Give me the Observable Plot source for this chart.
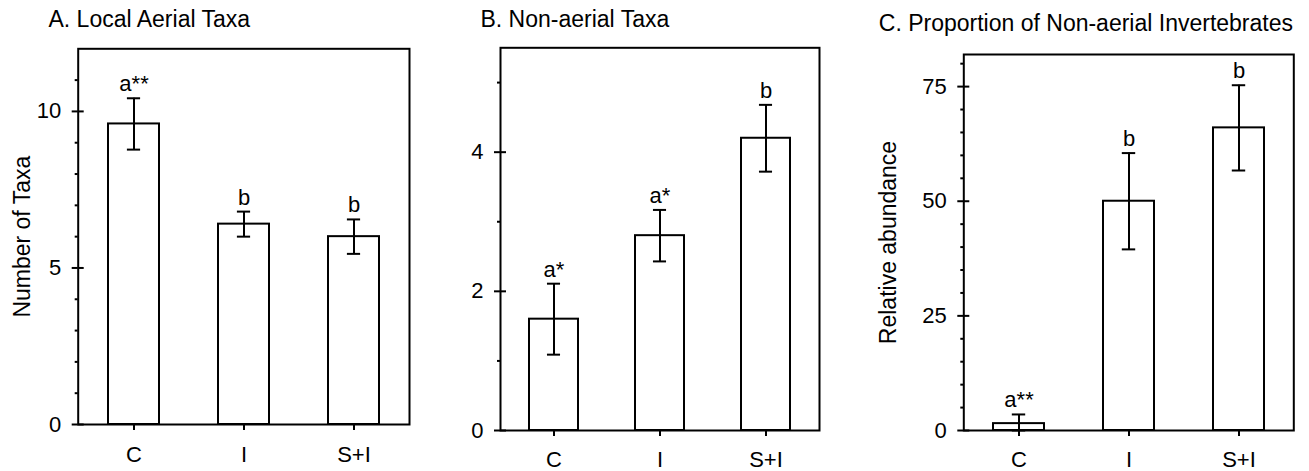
<!DOCTYPE html>
<html><head><meta charset="utf-8">
<script src="https://cdn.jsdelivr.net/npm/d3@7"></script>
<script src="https://cdn.jsdelivr.net/npm/@observablehq/plot@0.6"></script>
<style>
body{margin:0;background:#fff;}
#wrap{position:relative;width:1309px;height:471px;overflow:hidden;font-family:"Liberation Sans",Arial,Helvetica,sans-serif;}
#wrap svg{position:absolute;top:0;}
</style></head><body><div id="wrap"></div>
<script>
// ---- data ----
const treatments = ["C", "I", "S+I"];

const aerialMean = [9.6, 6.4, 6.0];
const aerialSE = [0.82, 0.40, 0.55];
const aerialLetters = ["a**", "b", "b"];

const nonAerialMean = [1.6, 2.8, 4.2];
const nonAerialSE = [0.51, 0.37, 0.48];
const nonAerialLetters = ["a*", "a*", "b"];

const proportionMean = [1.5, 50, 66];
const proportionSE = [2.0, 10.5, 9.3];
const proportionLetters = ["a**", "b", "b"];

const panelTitles = ["A. Local Aerial Taxa", "B. Non-aerial Taxa", "C. Proportion of Non-aerial Invertebrates"];
const yLabels = ["Number of Taxa", null, "Relative abundance"];
const yMajorTicks = [[0, 5, 10], [0, 2, 4], [0, 25, 50, 75]];
const yMinorTicks = [[1, 2, 3, 4, 6, 7, 8, 9, 11], [1, 3, 5], [5, 10, 15, 20, 30, 35, 40, 45, 55, 60, 65, 70, 80]];
const yMax = [12, 5.5, 82];

// ---- layout ----
const layouts = [
  {left: 0,   width: 430, mL: 77.7,  mR: 21,   mT: 48.3, mB: 47, titleDx: -29.7, titleDy: -22.3, labelDx: -47.7, xPad: 16},
  {left: 430, width: 430, mL: 70,    mR: 41,   mT: 47.3, mB: 41, titleDx: -20,   titleDy: -21.3, labelDx: 0,     xPad: 15},
  {left: 860, width: 449, mL: 103.3, mR: 15.7, mT: 54,   mB: 41, titleDx: -85,   titleDy: -24,   labelDx: -68.3, xPad: 15}
];
const means = [aerialMean, nonAerialMean, proportionMean];
const ses = [aerialSE, nonAerialSE, proportionSE];
const letters = [aerialLetters, nonAerialLetters, proportionLetters];

const wrap = document.getElementById("wrap");

layouts.forEach((L, p) => {
  const rows = treatments.map((t, i) => ({
    t,
    v: means[p][i],
    lo: Math.max(0, means[p][i] - ses[p][i]),
    hi: means[p][i] + ses[p][i],
    letter: letters[p][i]
  }));
  const frameW = L.width - L.mL - L.mR;
  const bw = frameW / 3 * 0.46;
  const capInset = (bw - 13) / 2;
  const marks = [
    Plot.barY(rows, {x: "t", y: "v", fill: "white", stroke: "black", strokeWidth: 2}),
    Plot.ruleX(rows, {x: "t", y1: "lo", y2: "hi", stroke: "black", strokeWidth: 2}),
    Plot.tickY(rows, {x: "t", y: "hi", insetLeft: capInset, insetRight: capInset, stroke: "black", strokeWidth: 2}),
    Plot.tickY(rows, {x: "t", y: "lo", insetLeft: capInset, insetRight: capInset, stroke: "black", strokeWidth: 2}),
    Plot.text(rows, {x: "t", y: "hi", text: "letter", dy: -7, lineAnchor: "bottom", fontSize: 22, fill: "black"}),
    Plot.frame({stroke: "black", strokeWidth: 2}),
    Plot.axisY({ticks: yMinorTicks[p], tickSize: 3, tickFormat: () => "", strokeWidth: 2, label: null, color: "black"}),
    Plot.axisY({ticks: yMajorTicks[p], tickFormat: d3.format("d"), tickSize: 6, tickPadding: 11, fontSize: 22, strokeWidth: 2, label: null, color: "black"}),
    Plot.tickY(yMajorTicks[p], {y: d => d, insetRight: frameW - 6, stroke: "black", strokeWidth: 2}),
    Plot.axisX({tickSize: 6, tickPadding: L.xPad, fontSize: 22, strokeWidth: 2, label: null, color: "black"}),
    Plot.text([panelTitles[p]], {text: d => d, frameAnchor: "top-left", dx: L.titleDx, dy: L.titleDy, textAnchor: "start", lineAnchor: "bottom", fontSize: 23, fill: "black"})
  ];
  if (yLabels[p]) {
    marks.push(Plot.text([yLabels[p]], {text: d => d, frameAnchor: "left", rotate: -90, dx: L.labelDx, textAnchor: "middle", lineAnchor: "bottom", fontSize: 23, fill: "black"}));
  }
  const chart = Plot.plot({
    width: L.width,
    height: 471,
    marginLeft: L.mL,
    marginRight: L.mR,
    marginTop: L.mT,
    marginBottom: L.mB,
    style: {fontFamily: "'Liberation Sans', Arial, Helvetica, sans-serif", fontSize: "22px", color: "black", background: "transparent", overflow: "visible"},
    x: {type: "band", domain: treatments, paddingInner: 0.54, paddingOuter: 0.27, label: null},
    y: {domain: [0, yMax[p]], label: null},
    marks
  });
  chart.style.left = L.left + "px";
  wrap.appendChild(chart);
});
</script>
</body></html>
